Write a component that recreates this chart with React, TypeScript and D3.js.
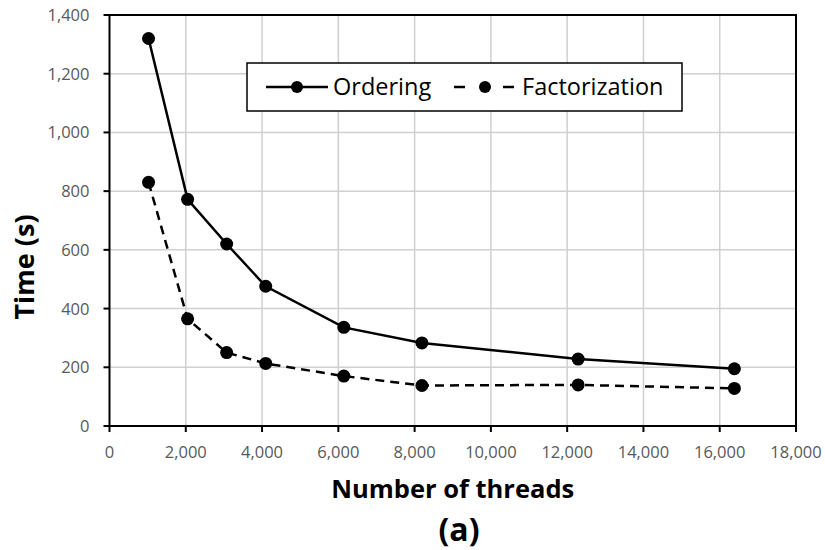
import React from "react";
import * as d3 from "d3";

const threads = [1024, 2048, 3072, 4096, 6144, 8192, 12288, 16384];
const ordering = [1320, 772, 620, 476, 336, 283, 228, 195];
const factorization = [830, 365, 250, 213, 170, 138, 140, 128];
const xTicks = [0, 2000, 4000, 6000, 8000, 10000, 12000, 14000, 16000, 18000];
const yTicks = [0, 200, 400, 600, 800, 1000, 1200, 1400];

export default function App() {
  const W = 825, H = 550;
  const L = 109.5, R = 796, T = 15, B = 426;
  const x = d3.scaleLinear().domain([0, 18000]).range([L, R]);
  const y = d3.scaleLinear().domain([0, 1400]).range([B, T]);
  const fmt = d3.format(",");
  const line = d3.line<number>().x((_, i) => x(threads[i])).y((d) => y(d));
  const font = "'Open Sans', 'Noto Sans', sans-serif";
  return (
    <svg width={W} height={H} style={{ position: "absolute", left: 0, top: 0 }} fontFamily={font}>
      <rect width={W} height={H} fill="#fff" />
      {xTicks.slice(1).map((t) => (
        <line key={"gx" + t} x1={x(t)} x2={x(t)} y1={T} y2={B} stroke="#d0d0d0" strokeWidth={1.5} />
      ))}
      {yTicks.slice(1).map((t) => (
        <line key={"gy" + t} x1={L} x2={R} y1={y(t)} y2={y(t)} stroke="#d0d0d0" strokeWidth={1.5} />
      ))}
      <rect x={L} y={T} width={R - L} height={B - T} fill="none" stroke="#000" strokeWidth={2} />
      {xTicks.map((t) => (
        <g key={"tx" + t}>
          <line x1={x(t)} x2={x(t)} y1={B} y2={B + 6} stroke="#000" strokeWidth={2} />
          <text x={x(t)} y={B + 32} textAnchor="middle" fontSize={16.5} fill="#595959">{fmt(t)}</text>
        </g>
      ))}
      {yTicks.map((t) => (
        <g key={"ty" + t}>
          <line x1={L - 6} x2={L} y1={y(t)} y2={y(t)} stroke="#000" strokeWidth={2} />
          <text x={L - 20} y={y(t) + 6} textAnchor="end" fontSize={16.5} fill="#595959">{fmt(t)}</text>
        </g>
      ))}
      <path d={line(ordering) || ""} fill="none" stroke="#000" strokeWidth={2.5} />
      <path d={line(factorization) || ""} fill="none" stroke="#000" strokeWidth={2.5} strokeDasharray="9,6" />
      {ordering.map((v, i) => (
        <circle key={"o" + i} cx={x(threads[i])} cy={y(v)} r={6.5} fill="#000" />
      ))}
      {factorization.map((v, i) => (
        <circle key={"f" + i} cx={x(threads[i])} cy={y(v)} r={6.5} fill="#000" />
      ))}
      <g>
        <rect x={247} y={63} width={435} height={48} fill="#fff" stroke="#000" strokeWidth={1.5} />
        <line x1={266} x2={328} y1={87} y2={87} stroke="#000" strokeWidth={2.5} />
        <circle cx={297} cy={87} r={6} fill="#000" />
        <text x={333} y={95} fontSize={23.5} fill="#000">Ordering</text>
        <line x1={454} x2={465} y1={87} y2={87} stroke="#000" strokeWidth={2.5} />
        <line x1={503} x2={514} y1={87} y2={87} stroke="#000" strokeWidth={2.5} />
        <circle cx={485} cy={87} r={6} fill="#000" />
        <text x={522} y={95} fontSize={23.5} fill="#000">Factorization</text>
      </g>
      <text transform={`translate(34,267) rotate(-90)`} textAnchor="middle" fontSize={27} fontWeight="bold" fill="#000">Time (s)</text>
      <text x={(L + R) / 2} y={498} textAnchor="middle" fontSize={25.5} fontWeight="bold" fill="#000">Number of threads</text>
      <text x={459} y={541} textAnchor="middle" fontSize={32} fontWeight="bold" fill="#000">(a)</text>
    </svg>
  );
}
